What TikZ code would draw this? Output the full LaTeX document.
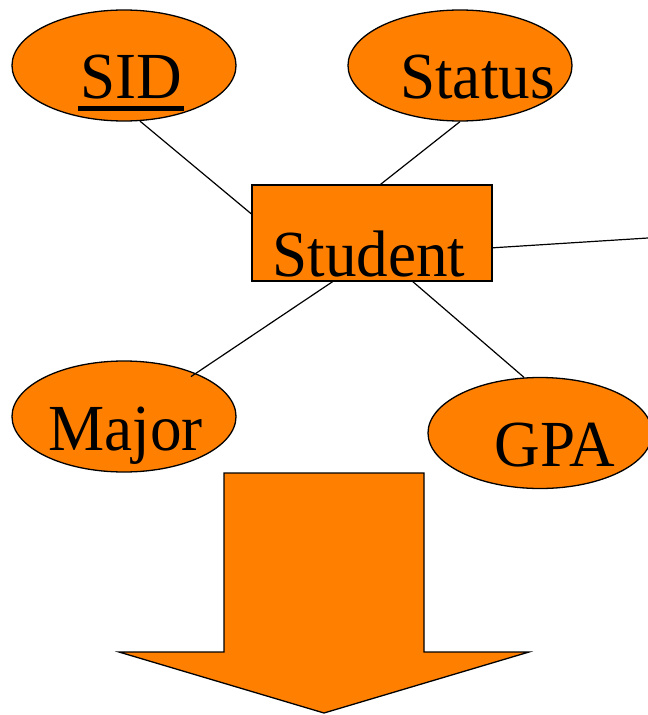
\documentclass[tikz,border=0pt]{standalone}
\usepackage{fontspec}
\setmainfont{Liberation Serif}
\usetikzlibrary{shapes.geometric}
\definecolor{erorange}{RGB}{255,127,0}
\newcommand{\erlabel}[1]{\scalebox{0.96}[1]{#1}}
\begin{document}
\begin{tikzpicture}[x=1bp,y=-1bp,
  attr/.style={ellipse,draw=black,fill=erorange,line width=1.3bp,
    minimum width=224bp,minimum height=111bp,inner sep=0pt},
  entity/.style={rectangle,draw=black,fill=erorange,line width=1.3bp,
    minimum width=240bp,minimum height=96bp,inner sep=0pt},
  lbl/.style={anchor=base,inner sep=0pt,font=\fontsize{66}{70}\selectfont},
  link/.style={line width=1.2bp,draw=black}]
  \useasboundingbox (0,0) rectangle (648,715);

  % attributes and the entity
  \node[attr] (sid) at (124,65.5) {};
  \node[attr] (status) at (460,65.5) {};
  \node[entity] (student) at (372,233) {};
  \node[attr] (major) at (124,416.5) {};
  \node[attr] (gpa) at (540,433) {};

  % labels
  \node[lbl] (sidtext) at (131.5,99) {\erlabel{SID}};
  \fill ([xshift=-2bp,yshift=-7bp]sidtext.base west) rectangle ([xshift=1bp,yshift=-12bp]sidtext.base east);
  \node[lbl] (statustext) at (477.5,99) {\erlabel{Status}};
  \node[lbl] (studenttext) at (369,276) {\erlabel{Student}};
  \node[lbl] (majortext) at (125.5,450.5) {\erlabel{Major}};
  \node[lbl] (gpatext) at (555,466) {\erlabel{GPA}};

  % connectors
  \coordinate (offright) at (648,238);
  \draw[link] (sid.-74) -- (student.171.5);
  \draw[link] (status.south) -- (student.80.5);
  \draw[link] (student.-7.1) -- (offright);
  \draw[link,shorten >=-6bp] (student.-129.8) -- (major.31.7);
  \draw[link] (student.-50.2) -- (gpa.106);

  % block arrow pointing down
  \draw[fill=erorange,line width=1.3bp,line join=miter]
    (224,473) -- (424,473) -- (424,652) -- (529,652) -- (324,713)
    -- (119,652) -- (224,652) -- cycle;
\end{tikzpicture}
\end{document}
